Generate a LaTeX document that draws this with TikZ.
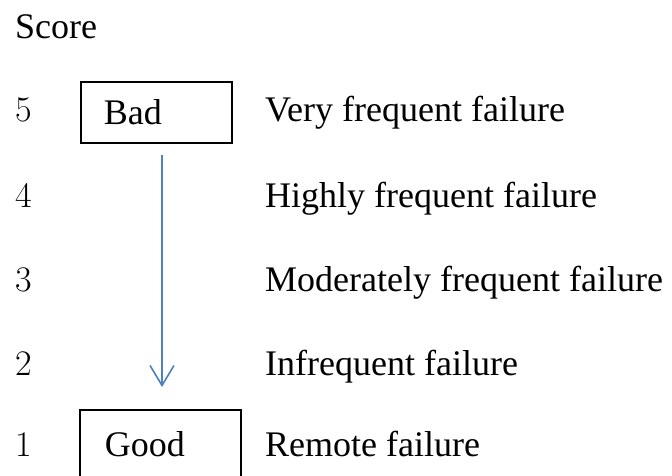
\documentclass[tikz,border=0pt]{standalone}
\usepackage{fontspec}
\usetikzlibrary{arrows.meta}
\newfontfamily\txtfont{Liberation Serif}
\definecolor{arrowblue}{RGB}{79,129,189}

\begin{document}
\begin{tikzpicture}[x=1pt,y=-1pt,
  every node/.style={font=\fontsize{36}{40}\selectfont},
  rowlabel/.style={anchor=base west,inner sep=0pt},
  scorebox/.style={draw,line width=1.6pt,anchor=north west,align=left,inner ysep=0pt}]
\useasboundingbox (0,0) rectangle (672,475);

\node[rowlabel,font=\fontsize{36}{40}\txtfont] (score) at (15,38) {Score};

\foreach \s/\yb in {5/121,4/207,3/291,2/375,1/456}
  \node[rowlabel] (num\s) at (15,\yb) {\s};

\node[scorebox,inner xsep=23pt,text width=105pt,minimum height=61pt,font=\fontsize{36}{40}\txtfont] (bad) at (80,81) {Bad};
\node[scorebox,inner xsep=25pt,text width=111pt,minimum height=68pt,font=\fontsize{36}{40}\txtfont] (good) at (79,409) {Good};

\foreach \s/\yb/\lbl in {5/121/Very frequent failure,4/207/Highly frequent failure,3/291/Moderately frequent failure,2/375/Infrequent failure,1/456/Remote failure}
  \node[rowlabel,font=\fontsize{36}{40}\txtfont] (txt\s) at (265,\yb) {\lbl};

\coordinate (arrtop) at (162,155);
\coordinate (arrbot) at (162,387);
\draw[arrowblue,line width=1.6pt,-{Straight Barb[length=20pt,width=24pt]}] (arrtop) -- (arrbot);
\end{tikzpicture}
\end{document}
